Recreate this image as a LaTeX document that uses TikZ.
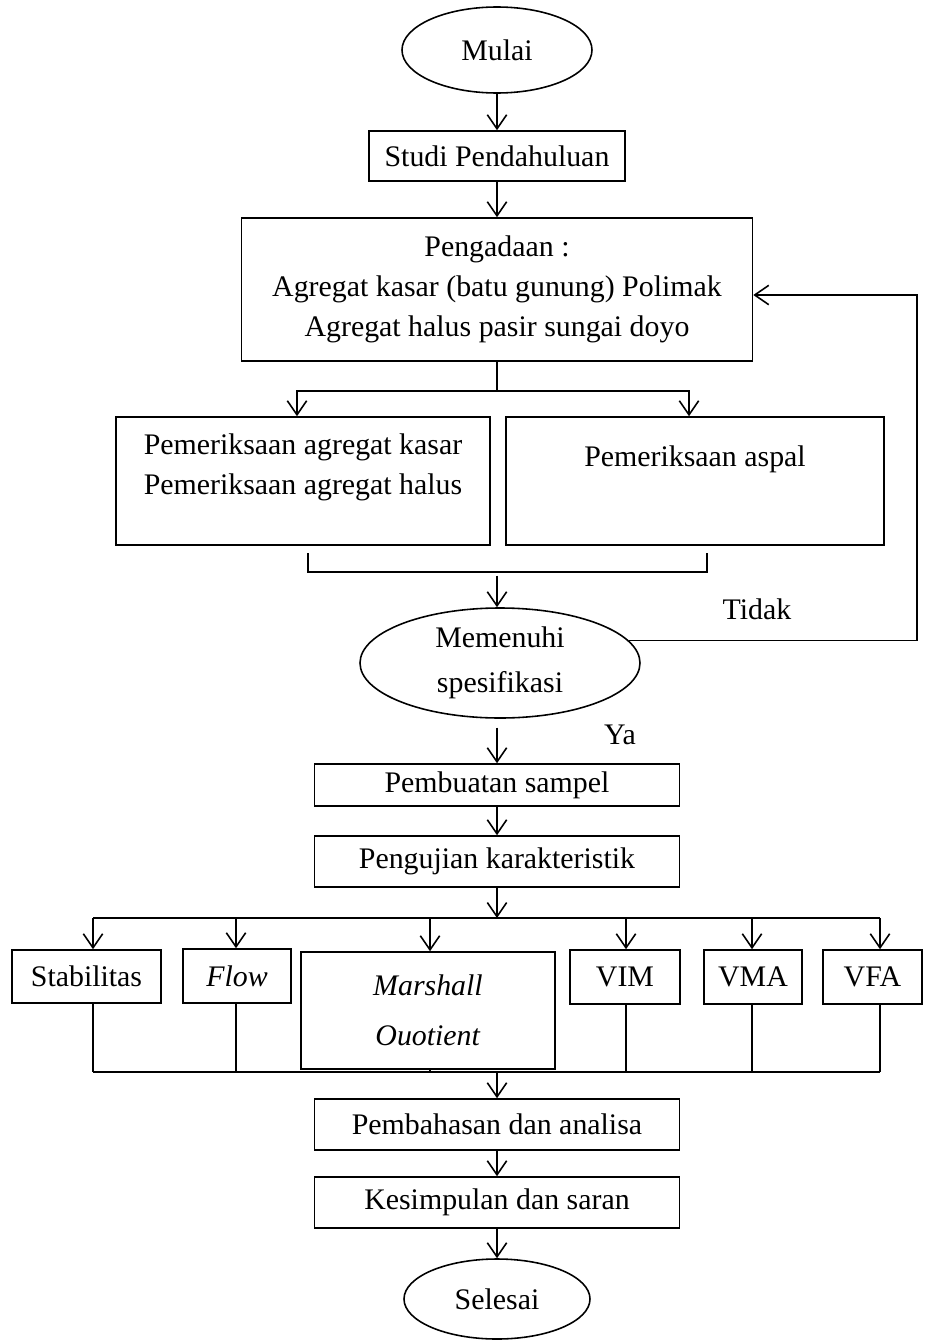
\documentclass[tikz,border=0pt]{standalone}
\usepackage{fontspec}
\setmainfont{Liberation Serif}
\usetikzlibrary{arrows.meta,shapes.geometric}

\begin{document}
\begin{tikzpicture}[y=-0.02cm,x=0.02cm,line width=0.9pt,
	every node/.style={font=\fontsize{17}{22.8}\selectfont, align=center},
	ukuran/.style 2 args={minimum width=#1*0.02cm, minimum height=#2*0.02cm},
	kotak/.style={draw, rectangle, inner sep=0pt},
	oval/.style={draw, ellipse, inner sep=0pt},
	panah/.style={-{Straight Barb[length=8pt,width=11pt]}}]
	\useasboundingbox (0,0) rectangle (924,1342);

	\node[oval, ukuran={190}{86}] (mulai) at (497,50) {Mulai};
	\node[kotak, ukuran={256}{50}] (studi) at (497,156) {Studi Pendahuluan};
	\node[kotak, ukuran={511}{143}] (adaan) at (497,289.5) {Pengadaan :\\Agregat kasar (batu gunung) Polimak\\Agregat halus pasir sungai doyo};

	\node[kotak, ukuran={374}{128}] (cek1) at (303,481) {};
	\node (cek1t) at (303,467.5) {Pemeriksaan agregat kasar\\Pemeriksaan agregat halus};
	\node[kotak, ukuran={378}{128}] (cek2) at (695,481) {};
	\node (cek2t) at (695,459) {Pemeriksaan aspal};

	\node[oval, ukuran={280}{110}] (syarat) at (500,663) {Memenuhi\\[2.8pt]spesifikasi};
	\node (tidak) at (757,609) {Tidak};
	\node (ya) at (620,735) {Ya};

	\node[kotak, ukuran={365}{42}] (sampel) at (497,785) {Pembuatan sampel};
	\node[kotak, ukuran={365}{51}] (uji) at (497,861.5) {Pengujian karakteristik};

	\node[kotak, ukuran={149}{53}] (stab) at (86.5,976.5) {Stabilitas};
	\node[kotak, ukuran={108}{54}] (flow) at (237,976) {\textit{Flow}};
	\node[kotak, ukuran={254}{117}] (marshall) at (428,1010.5) {\textit{Marshall}\\[5.6pt]\textit{Ouotient}};
	\node[kotak, ukuran={110}{54}] (vim) at (625,977) {VIM};
	\node[kotak, ukuran={98}{54}] (vma) at (753,977) {VMA};
	\node[kotak, ukuran={99}{54}] (vfa) at (872.5,977) {VFA};

	\node[kotak, ukuran={365}{51}] (bahas) at (497,1124.5) {Pembahasan dan analisa};
	\node[kotak, ukuran={365}{51}] (simpul) at (497,1202.5) {Kesimpulan dan saran};
	\node[oval, ukuran={186}{80}] (selesai) at (497,1299) {Selesai};

	\coordinate (cabang) at (497,391);
	\coordinate (kiri) at (308,553);
	\coordinate (kanan) at (707,553);
	\coordinate (gabung) at (497,572);
	\coordinate (balik) at (917,295);
	\coordinate (atas) at (497,918);
	\coordinate (bawah) at (497,1072);

	\draw[panah] (mulai) -- (studi);
	\draw[panah] (studi) -- (adaan);
	\draw (adaan.south) -- (cabang);
	\draw[panah] (cabang) -| (297,0 |- cek1.north);
	\draw[panah] (cabang) -| (689,0 |- cek2.north);
	\draw (kiri) |- (gabung) -| (kanan);
	\draw[panah] ([yshift=-2pt]gabung) -- (syarat.north -| gabung);
	\draw[panah] (syarat.10) -| (balik) -- (balik -| adaan.east);
	\draw[panah] ([yshift=-5pt]syarat.south -| gabung) -- (sampel);
	\draw[panah] (sampel) -- (uji);
	\draw[panah] (uji) -- (atas);

	\draw (93,0 |- atas) -- (880,0 |- atas);
	\draw (93,0 |- bawah) -- (880,0 |- bawah);
	\foreach \n/\x in {stab/93,flow/236,marshall/430,vim/626,vma/752,vfa/880} {
		\draw[panah] (\x,0 |- atas) -- (\x,0 |- \n.north);
		\draw (\x,0 |- \n.south) -- (\x,0 |- bawah);
	}
	\draw[panah] (bawah) -- (bahas);
	\draw[panah] (bahas) -- (simpul);
	\draw[panah] (simpul) -- (selesai);
\end{tikzpicture}
\end{document}
